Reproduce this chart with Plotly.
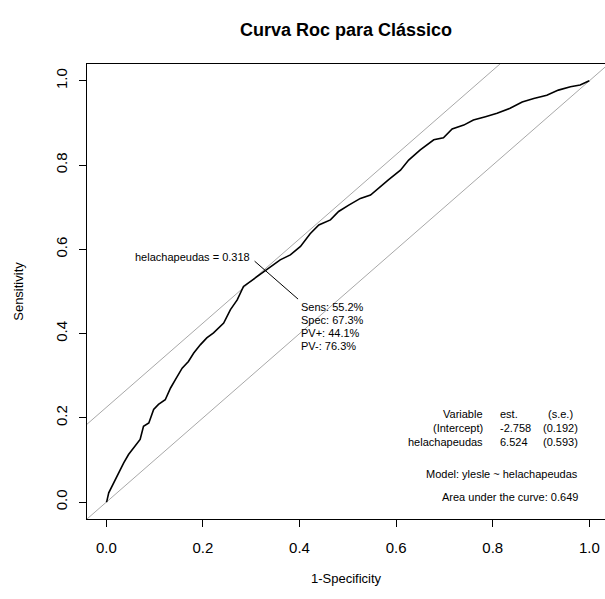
import plotly.graph_objects as go

# ---- data ----
fpr = [0, 0.001, 0.005, 0.015, 0.025, 0.036, 0.046, 0.060, 0.070, 0.077, 0.088,
       0.098, 0.108, 0.122, 0.133, 0.143, 0.157, 0.170, 0.181, 0.195, 0.208,
       0.222, 0.243, 0.257, 0.271, 0.284, 0.298, 0.319, 0.340, 0.360, 0.381,
       0.402, 0.422, 0.440, 0.464, 0.481, 0.502, 0.526, 0.547, 0.567, 0.584,
       0.609, 0.626, 0.650, 0.678, 0.698, 0.716, 0.740, 0.760, 0.785, 0.809,
       0.836, 0.861, 0.885, 0.912, 0.936, 0.961, 0.981, 0.999, 1.0]
tpr = [0, 0.002, 0.022, 0.046, 0.070, 0.093, 0.113, 0.133, 0.149, 0.180, 0.188,
       0.220, 0.232, 0.243, 0.271, 0.291, 0.318, 0.334, 0.354, 0.374, 0.390,
       0.402, 0.425, 0.457, 0.480, 0.512, 0.524, 0.540, 0.559, 0.575, 0.587,
       0.607, 0.637, 0.658, 0.670, 0.690, 0.705, 0.721, 0.729, 0.749, 0.765,
       0.788, 0.812, 0.836, 0.860, 0.865, 0.886, 0.895, 0.907, 0.915, 0.923,
       0.935, 0.950, 0.958, 0.966, 0.978, 0.986, 0.990, 0.998, 1.0]

sens_opt = 0.552
spec_opt = 0.673
cutoff_label = "helachapeudas = 0.318"
opt_lines = ["Sens: 55.2%", "Spec: 67.3%", "PV+: 44.1%", "PV-: 76.3%"]

table_col1 = ["Variable", "(Intercept)", "helachapeudas"]
table_col2 = ["est.", "-2.758", "6.524"]
table_col3 = ["(s.e.)", "(0.192)", "(0.593)"]
model_text = "Model: ylesle ~ helachapeudas"
auc_text = "Area under the curve: 0.649"

tick_vals = [0, 0.2, 0.4, 0.6, 0.8, 1.0]
title_text = "Curva Roc para Clássico"
x_title = "1-Specificity"
y_title = "Sensitivity"

FONT = "Liberation Sans, Arial, sans-serif"
GREY = "#a8a8a8"

fig = go.Figure()

opt_x = 1 - spec_opt
opt_y = sens_opt
icpt = opt_y - opt_x
ext = [-0.2, 1.2]

# reference lines
fig.add_trace(go.Scatter(x=ext, y=[v + icpt for v in ext], mode="lines",
                         line=dict(color=GREY, width=1), hoverinfo="skip"))
fig.add_trace(go.Scatter(x=ext, y=ext, mode="lines",
                         line=dict(color=GREY, width=1), hoverinfo="skip"))
# ROC curve
fig.add_trace(go.Scatter(x=fpr, y=tpr, mode="lines",
                         line=dict(color="black", width=1.6), hoverinfo="skip"))
# pointer segment at optimum
fig.add_trace(go.Scatter(x=[opt_x - 0.02, opt_x + 0.07], y=[opt_y + 0.02, opt_y - 0.07],
                         mode="lines", line=dict(color="black", width=1), hoverinfo="skip"))

ann = []
ann.append(dict(x=opt_x - 0.025, y=opt_y + 0.029, text=cutoff_label, xanchor="right",
                yanchor="middle", showarrow=False, font=dict(size=11, family=FONT, color="black")))
for i, t in enumerate(opt_lines):
    ann.append(dict(x=opt_x + 0.071, y=opt_y - 0.089 - i * 0.031, text=t, xanchor="left",
                    yanchor="middle", showarrow=False, font=dict(size=11, family=FONT, color="black")))

row_y = [0.210, 0.176, 0.142]
for i in range(3):
    ann.append(dict(x=0.785, y=row_y[i], text=table_col1[i], xanchor="right", yanchor="middle",
                    showarrow=False, font=dict(size=11, family=FONT, color="black")))
    ann.append(dict(x=0.810, y=row_y[i], text=table_col2[i], xanchor="left", yanchor="middle",
                    showarrow=False, font=dict(size=11, family=FONT, color="black")))
    ann.append(dict(x=0.940, y=row_y[i], text=table_col3[i], xanchor="center", yanchor="middle",
                    showarrow=False, font=dict(size=11, family=FONT, color="black")))
ann.append(dict(x=0.981, y=0.067, text=model_text, xanchor="right", yanchor="middle",
                showarrow=False, font=dict(size=11, family=FONT, color="black")))
ann.append(dict(x=0.981, y=0.013, text=auc_text, xanchor="right", yanchor="middle",
                showarrow=False, font=dict(size=11, family=FONT, color="black")))

fig.update_layout(
    width=605, height=599,
    margin=dict(l=87, r=0, t=64, b=80),
    paper_bgcolor="white", plot_bgcolor="white",
    showlegend=False,
    annotations=ann,
    title=dict(text="<b>" + title_text + "</b>", x=0.5, xref="paper", xanchor="center",
               y=1 - 30 / 599, yref="container", yanchor="middle",
               font=dict(size=18, family=FONT, color="black")),
    font=dict(family=FONT, color="black"),
)
fig.update_xaxes(range=[-0.04, 1.0325], tickvals=tick_vals, tickformat=".1f",
                 ticks="outside", ticklen=7, tickcolor="black", tickwidth=1,
                 ticklabelstandoff=8,
                 showline=True, mirror=True, linecolor="black", linewidth=1,
                 showgrid=False, zeroline=False,
                 tickfont=dict(size=15, family=FONT, color="black"),
                 title=dict(text=x_title, font=dict(size=13, family=FONT, color="black"), standoff=18))
fig.update_yaxes(range=[-0.04, 1.04], tickvals=tick_vals, tickformat=".1f",
                 ticks="outside", ticklen=7, tickcolor="black", tickwidth=1, tickangle=-90,
                 ticklabelstandoff=6,
                 showline=True, mirror=False, linecolor="black", linewidth=1,
                 showgrid=False, zeroline=False,
                 tickfont=dict(size=15, family=FONT, color="black"),
                 title=dict(text=y_title, font=dict(size=13, family=FONT, color="black"), standoff=26))

fig.write_html("out.html")
